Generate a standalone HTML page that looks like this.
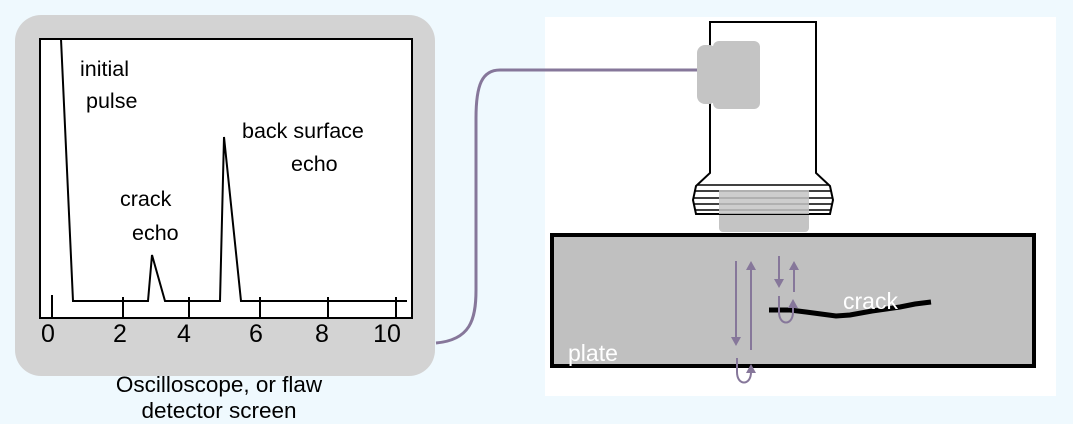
<!DOCTYPE html>
<html><head><meta charset="utf-8"><style>
html,body{margin:0;padding:0;background:#eff9fe;}
svg{display:block;font-family:"Liberation Sans",Arial,sans-serif;}
</style></head><body>
<svg width="1073" height="424" viewBox="0 0 1073 424">
<rect x="0" y="0" width="1073" height="424" fill="#eff9fe"/>
<rect x="15" y="15" width="420" height="361" rx="26" fill="#d3d3d3"/>
<rect x="40" y="39" width="372" height="279" fill="#fff" stroke="#000" stroke-width="2"/>
<g stroke="#000" stroke-width="2" fill="none">
<polyline points="61,39 73,301 148,301 152,255 165,301 220,301 224,137 241,301 407,301"/>
<line x1="52" y1="295" x2="52" y2="318"/>
<line x1="123" y1="297" x2="123" y2="318"/>
<line x1="189" y1="297" x2="189" y2="318"/>
<line x1="260" y1="297" x2="260" y2="318"/>
<line x1="328" y1="297" x2="328" y2="318"/>
<line x1="396" y1="297" x2="396" y2="318"/>
</g>
<g font-size="25" fill="#000" text-anchor="middle">
<text x="48" y="342">0</text><text x="120" y="342">2</text><text x="184" y="342">4</text>
<text x="256" y="342">6</text><text x="322" y="342">8</text><text x="387" y="342">10</text>
</g>
<g font-size="21.5" fill="#000">
<text x="80" y="76">initial</text>
<text x="86" y="108">pulse</text>
<text x="120" y="206">crack</text>
<text x="132" y="240">echo</text>
<text x="242" y="138">back surface</text>
<text x="291" y="171">echo</text>
</g>
<g font-size="22.5" fill="#000" text-anchor="middle">
<text x="219" y="392">Oscilloscope, or flaw</text>
<text x="219" y="418">detector screen</text>
</g>
<rect x="545" y="17" width="511" height="379" fill="#fff"/>
<path d="M436,343 C470,340 476,320 476,290 L476,118 C476,85 482,70 500,70 L698,70" stroke="#86779a" stroke-width="3" fill="none"/>
<rect x="719" y="190" width="90" height="42" rx="4" fill="#c4c4c4"/>
<path d="M710,22 L816,22 L816,173 L830,186 L833,200 L830,214 L696,214 L693,200 L696,186 L710,173 Z" fill="#fff" stroke="#000" stroke-width="2"/>
<g stroke="#000" stroke-width="1.5">
<line x1="698" y1="185" x2="829" y2="185"/>
<line x1="694" y1="191" x2="832" y2="191"/>
<line x1="693" y1="198" x2="833" y2="198"/>
<line x1="694" y1="204" x2="832" y2="204"/>
<line x1="696" y1="210" x2="830" y2="210"/>
</g>
<g fill="#c4c4c4" opacity="0.85"><rect x="719" y="190" width="90" height="24"/></g>
<rect x="697" y="45" width="20" height="59" rx="8" fill="#c4c4c4"/>
<rect x="713" y="41" width="47" height="68" rx="6" fill="#c4c4c4"/>
<rect x="552" y="235" width="482" height="131" fill="#c0c0c0" stroke="#000" stroke-width="4"/>
<text x="568" y="361" font-size="23" fill="#fff">plate</text>
<polyline points="769,310 790,310 806,312 836,316 850,315 872,311 900,307 915,304 931,302" stroke="#000" stroke-width="5" fill="none"/>
<text x="843" y="309" font-size="23" fill="#fff">crack</text>
<g stroke="#86779a" stroke-width="2" fill="none">
<line x1="736" y1="261" x2="736" y2="338"/>
<line x1="751" y1="268" x2="751" y2="350"/>
<line x1="779" y1="256" x2="779" y2="280"/>
<line x1="794" y1="268" x2="794" y2="292"/>
<path d="M737,358 L737,372 C737,386 751,386 751,372 L751,370"/>
<path d="M779,296 L779,312 C779,326 793,326 793,312 L793,308"/>
</g>
<g fill="#86779a">
<polygon points="731,337 741,337 736,346"/>
<polygon points="746,270 756,270 751,261"/>
<polygon points="774,279 784,279 779,288"/>
<polygon points="789,270 799,270 794,261"/>
<polygon points="746,373 756,373 751,364"/>
<polygon points="788,308 798,308 793,299"/>
</g>
</svg>
</body></html>
